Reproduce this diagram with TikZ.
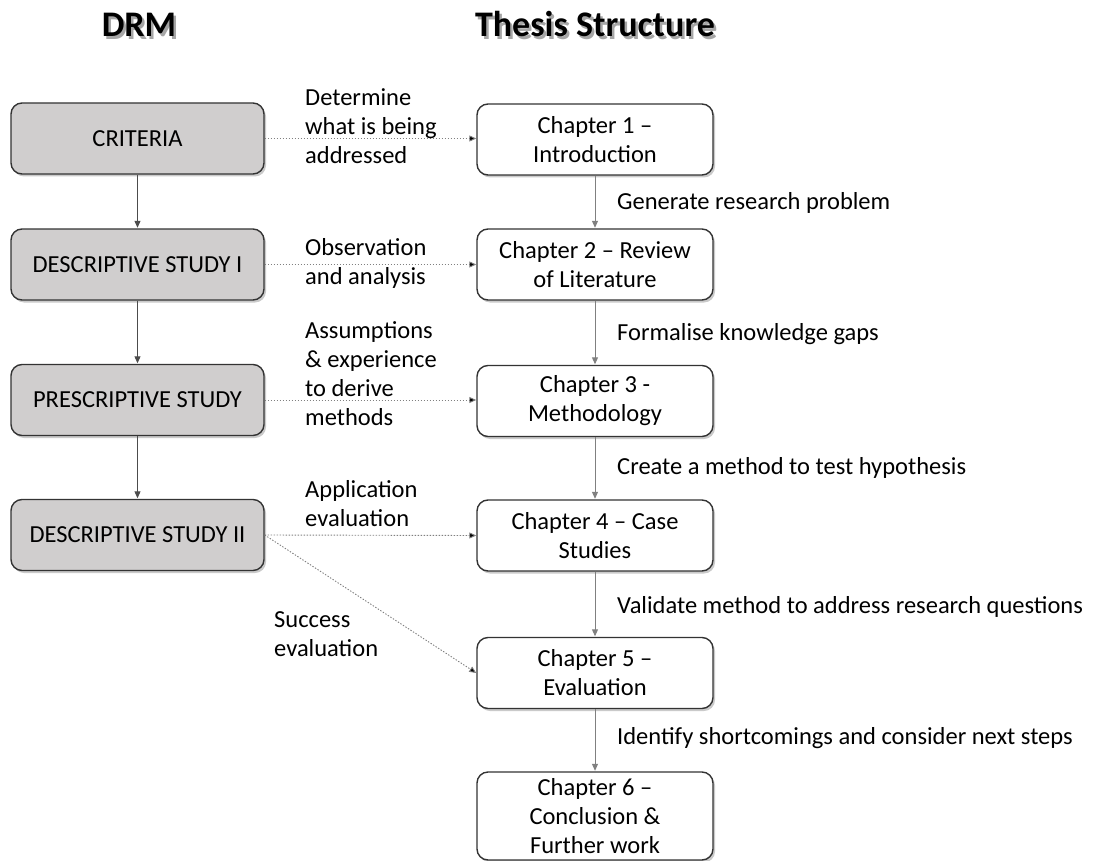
\documentclass[tikz,border=0pt]{standalone}
\usepackage{fontspec}
\setmainfont{Carlito}
\usetikzlibrary{arrows.meta,shadows}

\definecolor{boxfill}{HTML}{D0CECE}
\definecolor{boxline}{HTML}{333333}
\definecolor{linkgray}{HTML}{808080}

\tikzset{
  body/.style={font=\fontsize{24.5}{29}\selectfont},
  stagebox/.style={body, draw=boxline, line width=1.4pt, rounded corners=11pt,
    minimum width=253pt, minimum height=71pt, inner sep=0pt, align=center,
    drop shadow={shadow xshift=2pt, shadow yshift=-2.5pt, opacity=0.35, fill=black!60}},
  drmbox/.style={stagebox, fill=boxfill},
  chapbox/.style={stagebox, fill=white, minimum width=236pt},
  flow/.style={draw=linkgray, line width=1pt, -{Triangle[length=7pt,width=6pt]}, shorten >=0.5pt},
  drmflow/.style={flow, draw=black!70},
  link/.style={draw=linkgray, line width=0.9pt, dash pattern=on 1.4pt off 1.6pt,
    -{Triangle[length=7pt,width=6pt,fill=black]}},
  note/.style={body, inner sep=0pt, align=left},
  header/.style={font=\fontsize{36}{42}\selectfont\bfseries, inner sep=0pt, anchor=base},
}

\begin{document}
\begin{tikzpicture}[x=1pt, y=-1pt]
\useasboundingbox (0,0) rectangle (1094,861);

% column headings with a soft offset shadow
\node[header, text=black!35] at (141.5,39.5) {DRM};
\node[header] (drm) at (139,37) {DRM};
\node[header, text=black!35] at (597.5,39.5) {Thesis Structure};
\node[header] (thesis) at (595,37) {Thesis Structure};

% DRM stages
\node[drmbox] (crit) at (137.5,138.5) {CRITERIA};
\node[drmbox] (ds1)  at (137.5,264.5) {DESCRIPTIVE STUDY I};
\node[drmbox] (ps)   at (137.5,400)   {PRESCRIPTIVE STUDY};
\node[drmbox] (ds2)  at (137.5,535)   {DESCRIPTIVE STUDY II};

% thesis chapters
\node[chapbox] (ch1) at (595,139.5) {Chapter 1 --\\Introduction};
\node[chapbox] (ch2) at (595,264.5) {Chapter 2 -- Review\\of Literature};
\node[chapbox] (ch3) at (595,401)   {Chapter 3 -\\Methodology};
\node[chapbox] (ch4) at (595,535.5) {Chapter 4 -- Case\\Studies};
\node[chapbox] (ch5) at (595,673)   {Chapter 5 --\\Evaluation};
\node[chapbox, minimum height=88pt] (ch6) at (595,816) {Chapter 6 --\\Conclusion \&\\Further work};

% DRM sequence
\draw[drmflow] (crit) -- (ds1);
\draw[drmflow] (ds1) -- (ps);
\draw[drmflow] (ps) -- (ds2);

% chapter sequence
\draw[flow] (ch1) -- (ch2);
\draw[flow] (ch2) -- (ch3);
\draw[flow] (ch3) -- (ch4);
\draw[flow] (ch4) -- (ch5);
\draw[flow] (ch5) -- (ch6);

% links between stages and chapters
\draw[link] (crit.east) -- (crit.east -| ch1.west);
\draw[link] (ds1.east) -- (ch2.west);
\draw[link] (ps.east) -- (ps.east -| ch3.west);
\draw[link] (ds2.east) -- (ch4.west);
\draw[link] (ds2.east) -- (ch5.west);

% link labels
\node[note, anchor=west] (l1) at (305,126) {Determine\\what is being\\addressed};
\node[note, anchor=west] (l2) at (305,263) {Observation\\and analysis};
\node[note, anchor=west] (l3) at (305,374) {Assumptions\\\& experience\\to derive\\methods};
\node[note, anchor=west] (l4) at (305,504) {Application\\evaluation};
\node[note, anchor=west] (l5) at (274,634.5) {Success\\evaluation};

% sequence labels
\node[note, anchor=west] (s1) at (617,203) {Generate research problem};
\node[note, anchor=west] (s2) at (617,334.5) {Formalise knowledge gaps};
\node[note, anchor=west] (s3) at (617,468) {Create a method to test hypothesis};
\node[note, anchor=west] (s4) at (617,607) {Validate method to address research questions};
\node[note, anchor=west] (s5) at (617,738) {Identify shortcomings and consider next steps};
\end{tikzpicture}
\end{document}
